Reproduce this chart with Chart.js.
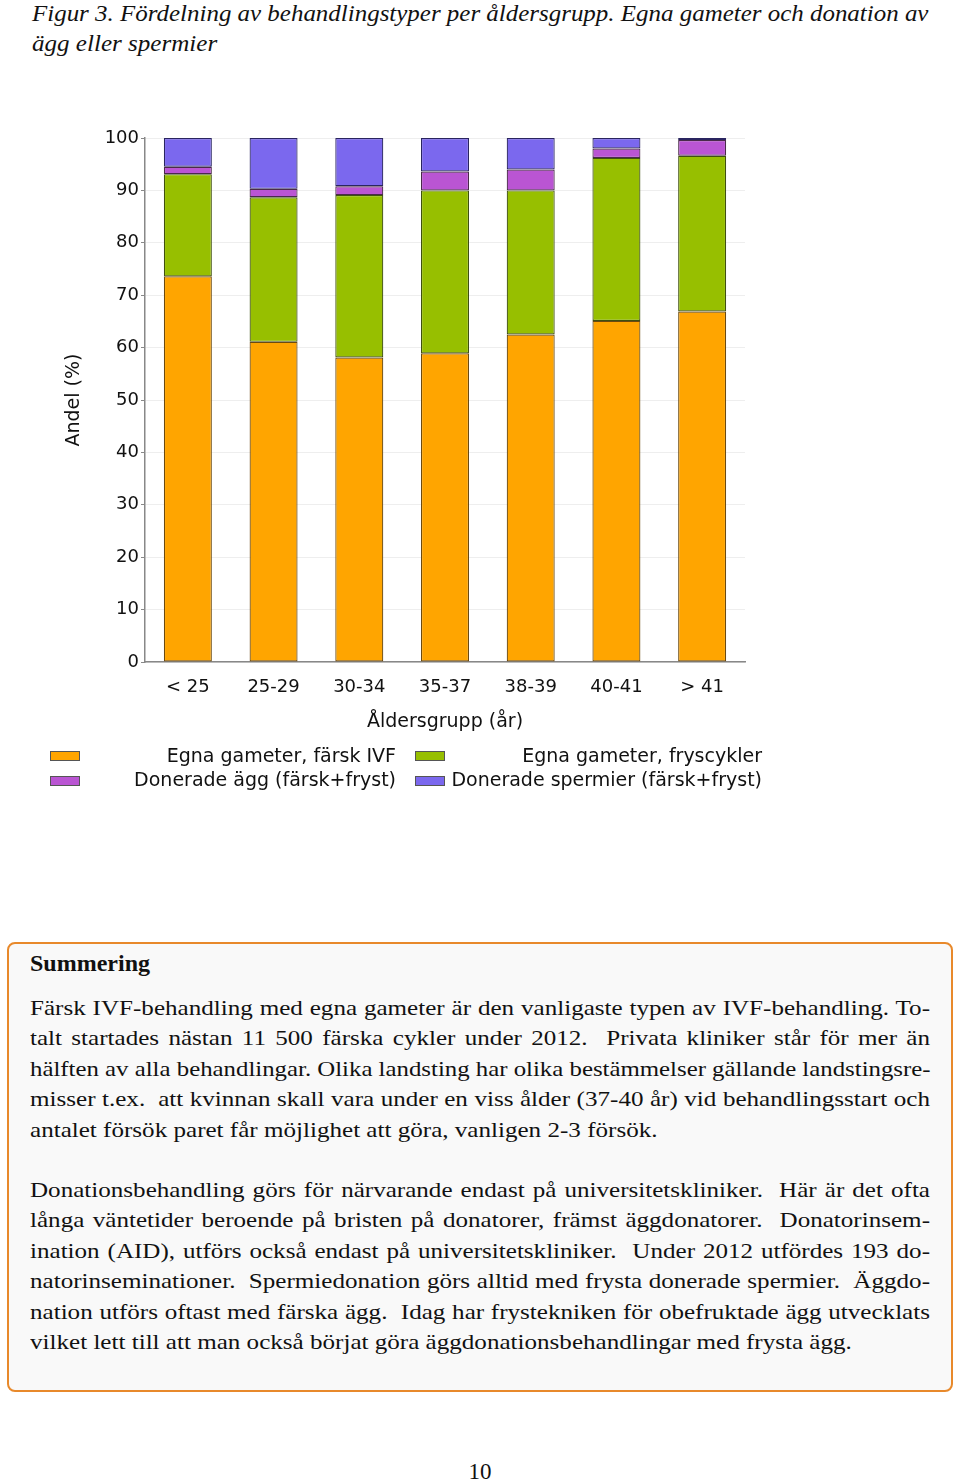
<!DOCTYPE html>
<html>
<head>
<meta charset="utf-8">
<script src="https://cdn.jsdelivr.net/npm/chart.js@4"></script>
<style>
  html, body { margin: 0; padding: 0; background: #fff; }
  body { position: relative; width: 960px; height: 1483px; overflow: hidden; }
  .serif { font-family: "Liberation Serif", "Times New Roman", serif; color: #111; }
  .caption { position: absolute; left: 32px; top: -1px; width: 896px; font-size: 23px; font-style: italic; line-height: 30px; }
  .jl, .nl { display: block; white-space: nowrap; transform-origin: 0 0; }
  .jl { text-align: justify; text-align-last: justify; }
  #chartBox { position: absolute; left: 0; top: 100px; width: 960px; height: 650px; }
  .legend { position: absolute; font-family: "DejaVu Sans", sans-serif; font-size: 19px; color: #111; }
  .lg-box { position: absolute; width: 28px; height: 8px; border: 1px solid #555; }
  .lg-text { position: absolute; text-align: right; white-space: nowrap; line-height: 24px; }
  .summary { position: absolute; left: 7px; top: 942px; width: 942px; height: 446px;
             border: 2px solid #E8892B; border-radius: 8px; background: #f9f9f9; }
  .sum-text { position: absolute; left: 30px; width: 900px; font-size: 22px; line-height: 30.4px; }
  .pageno { position: absolute; left: 0; width: 960px; top: 1459px; text-align: center; font-size: 23px; }
</style>
</head>
<body>

<div class="caption serif" data-sx="1.09">
  <span class="jl">Figur 3. Fördelning av behandlingstyper per åldersgrupp. Egna gameter och donation av</span>
  <span class="nl">ägg eller spermier</span>
</div>

<div id="chartBox"><canvas id="chart"></canvas></div>

<div id="legend"></div>

<div class="summary"></div>
<div class="sum-text serif" style="top:948px; font-weight:bold; font-size:24px;">Summering</div>
<div class="sum-text serif" data-sx="1.14" style="top:993px;">
  <span class="jl">Färsk IVF-behandling med egna gameter är den vanligaste typen av IVF-behandling. To-</span>
  <span class="jl">talt startades nästan 11 500 färska cykler under 2012.&nbsp; Privata kliniker står för mer än</span>
  <span class="jl">hälften av alla behandlingar. Olika landsting har olika bestämmelser gällande landstingsre-</span>
  <span class="jl">misser t.ex.&nbsp; att kvinnan skall vara under en viss ålder (37-40 år) vid behandlingsstart och</span>
  <span class="nl">antalet försök paret får möjlighet att göra, vanligen 2-3 försök.</span>
</div>
<div class="sum-text serif" data-sx="1.14" style="top:1175px;">
  <span class="jl">Donationsbehandling görs för närvarande endast på universitetskliniker.&nbsp; Här är det ofta</span>
  <span class="jl">långa väntetider beroende på bristen på donatorer, främst äggdonatorer.&nbsp; Donatorinsem-</span>
  <span class="jl">ination (AID), utförs också endast på universitetskliniker.&nbsp; Under 2012 utfördes 193 do-</span>
  <span class="jl">natorinseminationer.&nbsp; Spermiedonation görs alltid med frysta donerade spermier.&nbsp; Äggdo-</span>
  <span class="jl">nation utförs oftast med färska ägg.&nbsp; Idag har frystekniken för obefruktade ägg utvecklats</span>
  <span class="nl">vilket lett till att man också börjat göra äggdonationsbehandlingar med frysta ägg.</span>
</div>

<div class="pageno serif">10</div>

<script>
// age groups
const ageGroups = ['< 25', '25-29', '30-34', '35-37', '38-39', '40-41', '> 41'];

// share (%) per treatment type
const egnaFarsk = [73.6, 61.1, 58.1, 58.9, 62.5, 65.1, 66.9];
const egnaFrys = [19.5, 27.6, 31.0, 31.1, 27.5, 31.1, 29.7];
const donAgg = [1.4, 1.6, 1.7, 3.6, 4.0, 1.8, 3.0];
const donSpermier = [5.5, 9.7, 9.2, 6.4, 6.0, 2.0, 0.4];

const seriesNames = ['Egna gameter, färsk IVF', 'Egna gameter, fryscykler',
                     'Donerade ägg (färsk+fryst)', 'Donerade spermier (färsk+fryst)'];
const seriesColors = ['#FFA500', '#97BF00', '#BA55D3', '#7B68EE'];
const seriesBorders = ['#6b4a10', '#3f5010', '#4a2a4a', '#2a2560'];

const yTicks = [0, 10, 20, 30, 40, 50, 60, 70, 80, 90, 100];

// stretch the serif text lines a bit wider, justify inside the box
document.querySelectorAll('[data-sx]').forEach(block => {
    const sx = parseFloat(block.dataset.sx);
    const target = block.offsetWidth;
    block.querySelectorAll('.jl, .nl').forEach(el => {
        const probe = document.createElement('span');
        probe.style.whiteSpace = 'nowrap';
        probe.innerHTML = el.innerHTML;
        el.appendChild(probe);
        const w = probe.offsetWidth;
        probe.remove();
        let s = sx;
        if (el.classList.contains('jl') || w * s > target) s = Math.min(sx, target / w) < sx && w * sx > target ? target / w : sx;
        el.style.width = (target / s) + 'px';
        el.style.transform = 'scaleX(' + s + ')';
    });
});

// legend (two columns, text right aligned)
const legendPos = [
    { box: [50, 751], textRight: 396, y: 743 },
    { box: [415, 751], textRight: 762, y: 743 },
    { box: [50, 776], textRight: 396, y: 767 },
    { box: [415, 776], textRight: 762, y: 767 }
];
const legendEl = document.getElementById('legend');
seriesNames.forEach((name, i) => {
    const p = legendPos[i];
    const b = document.createElement('div');
    b.className = 'legend lg-box';
    b.style.left = p.box[0] + 'px';
    b.style.top = p.box[1] + 'px';
    b.style.background = seriesColors[i];
    legendEl.appendChild(b);
    const t = document.createElement('div');
    t.className = 'legend lg-text';
    t.style.right = (960 - p.textRight) + 'px';
    t.style.top = p.y + 'px';
    t.textContent = name;
    legendEl.appendChild(t);
});

const datasets = [egnaFarsk, egnaFrys, donAgg, donSpermier].map((vals, i) => ({
    label: seriesNames[i],
    data: vals,
    backgroundColor: seriesColors[i],
    borderColor: seriesBorders[i],
    borderWidth: 1.2,
    borderSkipped: false,
    barPercentage: 0.56,
    categoryPercentage: 1.0
}));

const ctx = document.getElementById('chart').getContext('2d');
new Chart(ctx, {
    type: 'bar',
    data: { labels: ageGroups, datasets: datasets },
    options: {
        responsive: true,
        maintainAspectRatio: false,
        animation: false,
        layout: { padding: { left: 0, right: 215, top: 38, bottom: 0 } },
        plugins: {
            legend: { display: false },
            tooltip: { enabled: false }
        },
        scales: {
            x: {
                stacked: true,
                grid: { display: false },
                border: { display: true, color: '#888', width: 1.5 },
                ticks: { color: '#111', font: { family: 'DejaVu Sans', size: 18 }, padding: 7 },
                title: {
                    display: true,
                    text: 'Åldersgrupp (år)',
                    color: '#111',
                    font: { family: 'DejaVu Sans', size: 19 },
                    padding: { top: 0, bottom: 17 }
                },
                afterFit: s => { s.height = 88; }
            },
            y: {
                stacked: true,
                min: 0,
                max: 100,
                afterBuildTicks: s => { s.ticks = yTicks.map(v => ({ value: v })); },
                grid: { color: '#eeeeee', tickColor: '#888', tickLength: 4, lineWidth: 1 },
                border: { display: true, color: '#888', width: 1.5 },
                ticks: { color: '#111', font: { family: 'DejaVu Sans', size: 18 }, padding: 2 },
                title: {
                    display: true,
                    text: 'Andel (%)',
                    color: '#111',
                    font: { family: 'DejaVu Sans', size: 19 },
                    padding: { top: 63, bottom: 0 }
                },
                afterFit: s => { s.width = 145; }
            }
        }
    }
});
</script>
</body>
</html>
